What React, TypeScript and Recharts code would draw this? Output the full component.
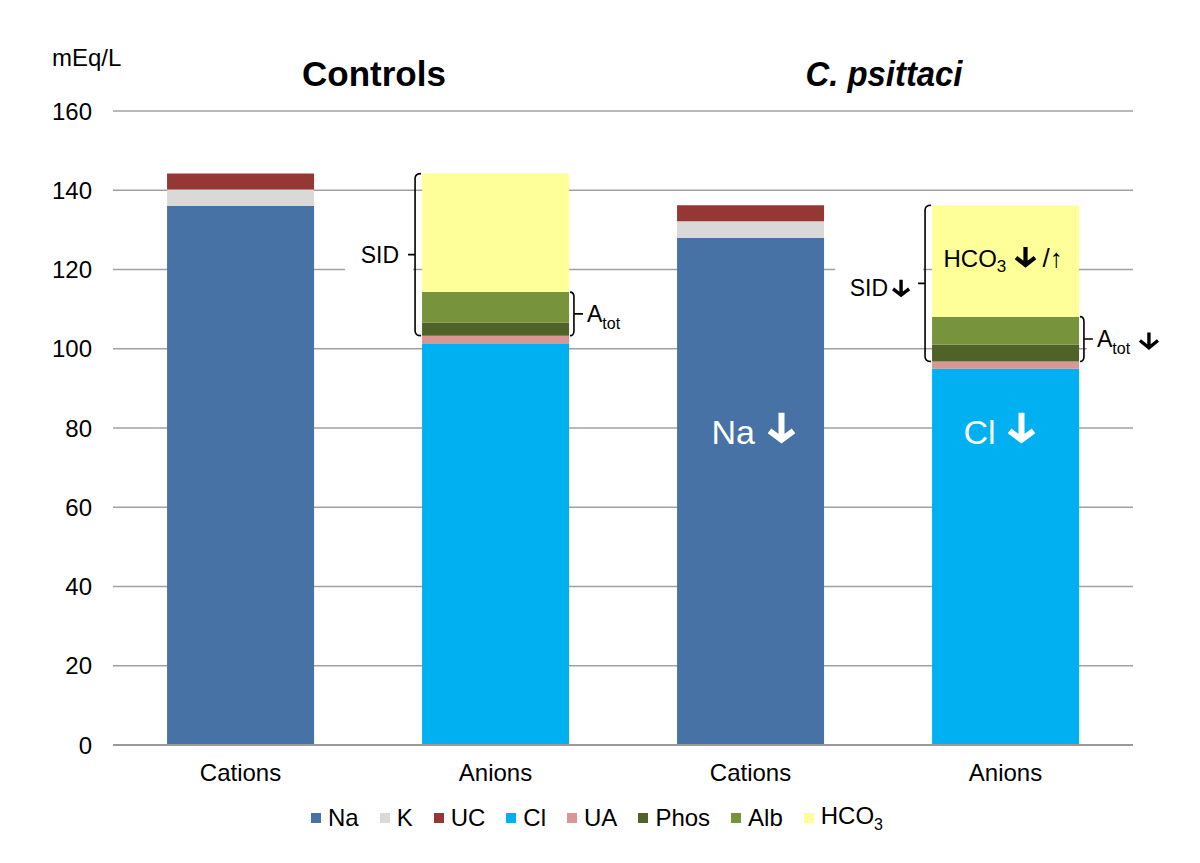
import React from "react";
import {
  BarChart,
  Bar,
  XAxis,
  YAxis,
  CartesianGrid,
  Legend,
  ReferenceArea,
  ReferenceDot,
} from "recharts";

const FONT = '"Liberation Sans", Arial, Helvetica, sans-serif';

// x categories (unique keys, shown labels)
const groups = ["ctrl-cat", "ctrl-an", "psit-cat", "psit-an"];
const categories = ["Cations", "Anions", "Cations", "Anions"];

// mEq/L
const na = [136.0, 0, 128.0, 0];
const k = [4.2, 0, 4.2, 0];
const uc = [4.0, 0, 4.0, 0];
const cl = [0, 101.2, 0, 95.0];
const ua = [0, 2.1, 0, 1.8];
const phos = [0, 3.3, 0, 4.2];
const alb = [0, 7.7, 0, 7.1];
const hco3 = [0, 29.9, 0, 28.1];

const yTicks = [0, 20, 40, 60, 80, 100, 120, 140, 160];

const SERIES = [
  { key: "Na", color: "#4672A6", values: na },
  { key: "K", color: "#D9D9D9", values: k },
  { key: "UC", color: "#953735", values: uc },
  { key: "Cl", color: "#00B0F0", values: cl },
  { key: "UA", color: "#D99694", values: ua },
  { key: "Phos", color: "#4F6228", values: phos },
  { key: "Alb", color: "#77933C", values: alb },
  { key: "HCO3", color: "#FFFF99", values: hco3 },
];

const data = groups.map((g, i) => {
  const row: any = { group: g };
  SERIES.forEach((s) => (row[s.key] = s.values[i]));
  return row;
});

// bar edges inside the band
const GAP = 0.212;

// brace ranges built from the stacked values
const uaTop = (i: number) => cl[i] + ua[i];
const albTop = (i: number) => cl[i] + ua[i] + phos[i] + alb[i];
const anTop = (i: number) => albTop(i) + hco3[i];

const DownArrow = ({ x, y, w, h, sw, color }: any) => (
  <path
    d={`M${x},${y - h / 2} L${x},${y + h / 2 - sw / 2} M${x - w / 2},${
      y + h / 2 - w / 2
    } L${x},${y + h / 2 - sw / 2} L${x + w / 2},${y + h / 2 - w / 2}`}
    stroke={color}
    strokeWidth={sw}
    fill="none"
    strokeLinejoin="miter"
  />
);

const LeftBrace = (props: any) => {
  const { x, y, width, height, withArrow } = props;
  const barLeft = x + width * GAP;
  const xv = barLeft - 7;
  const y1 = y;
  const y2 = y + height;
  const ym = (y1 + y2) / 2;
  const r = 5;
  const tx = withArrow ? xv - 37 : xv - 16;
  return (
    <g>
      <rect
        x={withArrow ? xv - 90 : xv - 70}
        y={ym - 22}
        width={withArrow ? 88 : 68}
        height={44}
        fill="#fff"
      />
      <path
        d={`M${barLeft - 1},${y1} Q${xv},${y1} ${xv},${y1 + r} L${xv},${
          y2 - r
        } Q${xv},${y2} ${barLeft - 1},${y2} M${xv},${ym} L${xv - 7},${ym}`}
        stroke="#000"
        strokeWidth={1.6}
        fill="none"
      />
      <text
        x={tx}
        y={ym + (withArrow ? 13 : 8)}
        textAnchor="end"
        fontFamily={FONT}
        fontSize={23}
        fill="#000"
      >
        SID
      </text>
      {withArrow && (
        <DownArrow x={xv - 24} y={ym + 5} w={16} h={17} sw={3.4} color="#000" />
      )}
    </g>
  );
};

const RightBrace = (props: any) => {
  const { x, y, width, height, withArrow } = props;
  const barRight = x + width * (1 - GAP);
  const xv = barRight + 5;
  const y1 = y;
  const y2 = y + height;
  const ym = (y1 + y2) / 2;
  const r = 5;
  return (
    <g>
      <rect x={xv + 3} y={ym - 18} width={withArrow ? 86 : 56} height={38} fill="#fff" />
      <path
        d={`M${barRight + 1},${y1} Q${xv},${y1} ${xv},${y1 + r} L${xv},${
          y2 - r
        } Q${xv},${y2} ${barRight + 1},${y2} M${xv},${ym} L${xv + 9},${ym}`}
        stroke="#000"
        strokeWidth={1.6}
        fill="none"
      />
      <text x={xv + 13} y={ym + 8} fontFamily={FONT} fontSize={23} fill="#000">
        A
        <tspan fontSize={16} dy={7}>
          tot
        </tspan>
      </text>
      {withArrow && (
        <DownArrow x={xv + 65} y={ym + 2} w={18} h={17} sw={3.4} color="#000" />
      )}
    </g>
  );
};

const GroupTitle = (props: any) => {
  const { x, y, width, text, italic } = props;
  return (
    <text
      x={x + width / 2 + 6}
      y={y - 25}
      textAnchor="middle"
      fontFamily={FONT}
      fontSize={35}
      fontWeight="bold"
      fontStyle={italic ? "italic" : "normal"}
      fill="#000"
      textLength={italic ? 157 : undefined}
      lengthAdjust={italic ? "spacingAndGlyphs" : undefined}
    >
      {text}
    </text>
  );
};

const InBarLabel = (props: any) => {
  const { cx, cy, text, textDx, arrowDx } = props;
  return (
    <g>
      <text x={cx + textDx} y={cy} fontFamily={FONT} fontSize={34} fill="#fff">
        {text}
      </text>
      <DownArrow x={cx + arrowDx} y={cy - 16} w={24} h={30} sw={6} color="#fff" />
    </g>
  );
};

const HcoLabel = (props: any) => {
  const { cx, cy } = props;
  return (
    <g>
      <text x={cx - 62} y={cy} fontFamily={FONT} fontSize={24} fill="#000">
        HCO
        <tspan fontSize={17} dy={5}>
          3
        </tspan>
      </text>
      <DownArrow x={cx + 20} y={cy - 10} w={19} h={20} sw={4.2} color="#000" />
      <text x={cx + 37} y={cy} fontFamily={FONT} fontSize={26} fill="#000">
        /↑
      </text>
    </g>
  );
};

const LegendContent = () => (
  <div
    style={{
      display: "flex",
      justifyContent: "center",
      alignItems: "center",
      gap: 21,
      height: 30,
      fontFamily: FONT,
      fontSize: 24,
      color: "#000",
      marginLeft: -6,
    }}
  >
    {SERIES.map((s) => (
      <div key={s.key} style={{ display: "flex", alignItems: "center" }}>
        <span
          style={{
            display: "inline-block",
            width: 10,
            height: 10,
            background: s.color,
            marginRight: 7,
          }}
        />
        <span>
          {s.key === "HCO3" ? (
            <>
              HCO<span style={{ fontSize: 16, verticalAlign: -6 }}>3</span>
            </>
          ) : (
            s.key
          )}
        </span>
      </div>
    ))}
  </div>
);

const YUnit = (props: any) => {
  const { viewBox } = props;
  return (
    <text x={52} y={viewBox.y - 45} fontFamily={FONT} fontSize={24} fill="#000">
      mEq/L
    </text>
  );
};

export default function App() {
  return (
    <div
      style={{
        position: "absolute",
        left: 0,
        top: 0,
        width: 1200,
        height: 863,
        background: "#fff",
      }}
    >
      <BarChart
        width={1200}
        height={863}
        data={data}
        margin={{ top: 111, right: 67, bottom: 30, left: 0 }}
        barCategoryGap="21.2%"
      >
        <CartesianGrid vertical={false} stroke="#a0a0a0" strokeWidth={1.5} />
        <XAxis
          dataKey="group"
          height={58}
          tickFormatter={(v: string) => categories[groups.indexOf(v)]}
          tickLine={false}
          tickSize={0}
          tickMargin={19}
          axisLine={{ stroke: "#999", strokeWidth: 2 }}
          tick={{ fontFamily: FONT, fontSize: 24, fill: "#000" }}
        />
        <YAxis
          width={113}
          domain={[0, 160]}
          ticks={yTicks}
          interval={0}
          axisLine={false}
          tickLine={false}
          tickSize={0}
          tickMargin={21}
          tick={{ fontFamily: FONT, fontSize: 24, fill: "#000" }}
          label={<YUnit />}
        />
        <Legend
          verticalAlign="bottom"
          content={<LegendContent />}
          wrapperStyle={{ left: 0, width: 1200 }}
        />
        <ReferenceArea
          x1="ctrl-cat"
          x2="ctrl-an"
          y1={0}
          y2={160}
          ifOverflow="visible"
          shape={(p: any) => <GroupTitle {...p} text="Controls" />}
        />
        <ReferenceArea
          x1="psit-cat"
          x2="psit-an"
          y1={0}
          y2={160}
          ifOverflow="visible"
          shape={(p: any) => <GroupTitle {...p} text="C. psittaci" italic />}
        />
        <ReferenceArea
          x1="ctrl-an"
          x2="ctrl-an"
          y1={uaTop(1)}
          y2={anTop(1)}
          ifOverflow="visible"
          shape={(p: any) => <LeftBrace {...p} />}
        />
        <ReferenceArea
          x1="psit-an"
          x2="psit-an"
          y1={uaTop(3)}
          y2={anTop(3)}
          ifOverflow="visible"
          shape={(p: any) => <LeftBrace {...p} withArrow />}
        />
        {SERIES.map((s) => (
          <Bar
            key={s.key}
            dataKey={s.key}
            stackId="a"
            fill={s.color}
            isAnimationActive={false}
          />
        ))}
        <ReferenceArea
          x1="ctrl-an"
          x2="ctrl-an"
          y1={uaTop(1)}
          y2={albTop(1)}
          ifOverflow="visible"
          shape={(p: any) => <RightBrace {...p} />}
        />
        <ReferenceArea
          x1="psit-an"
          x2="psit-an"
          y1={uaTop(3)}
          y2={albTop(3)}
          ifOverflow="visible"
          shape={(p: any) => <RightBrace {...p} withArrow />}
        />
        <ReferenceDot
          x="psit-cat"
          y={76}
          ifOverflow="visible"
          zIndex={2500}
          shape={(p: any) => (
            <InBarLabel {...p} text="Na" textDx={-39} arrowDx={31} />
          )}
        />
        <ReferenceDot
          x="psit-an"
          y={76}
          ifOverflow="visible"
          zIndex={2500}
          shape={(p: any) => (
            <InBarLabel {...p} text="Cl" textDx={-42} arrowDx={16} />
          )}
        />
        <ReferenceDot
          x="psit-an"
          y={120.6}
          ifOverflow="visible"
          zIndex={2500}
          shape={(p: any) => <HcoLabel {...p} />}
        />
      </BarChart>
    </div>
  );
}
